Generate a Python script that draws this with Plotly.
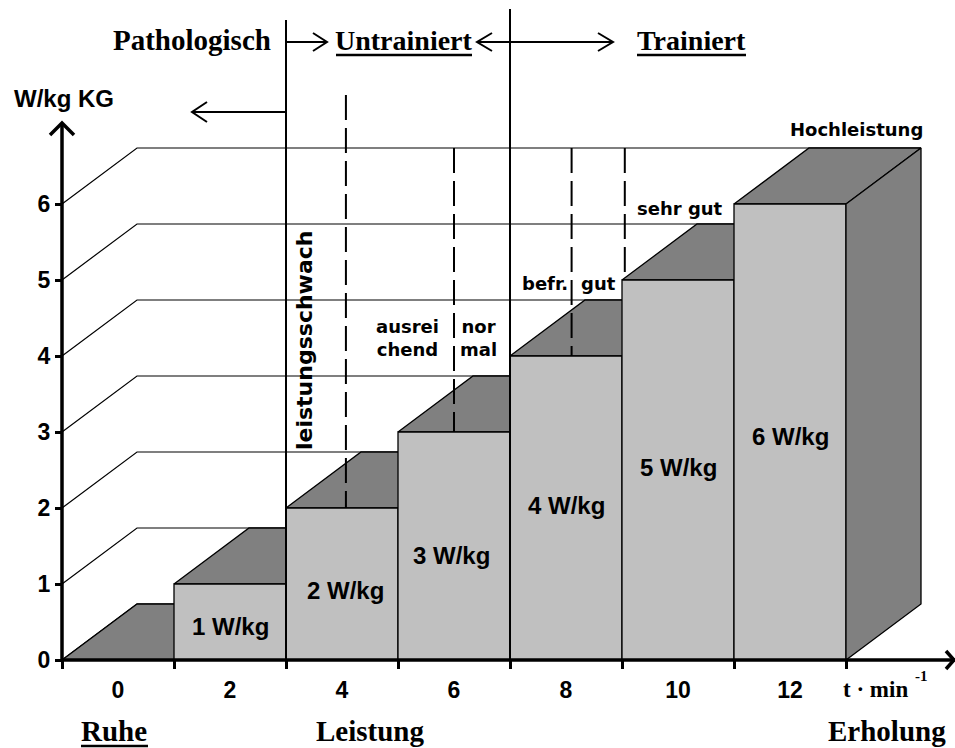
import plotly.graph_objects as go

# ---------------- data ----------------
minutes = [0, 2, 4, 6, 8, 10, 12]            # step centres (min)
watt_per_kg = [0, 1, 2, 3, 4, 5, 6]          # load of each step
bar_labels = ["", "1 W/kg", "2 W/kg", "3 W/kg", "4 W/kg", "5 W/kg", "6 W/kg"]
x_tick_labels = ["0", "2", "4", "6", "8", "10", "12"]
y_ticks = [0, 1, 2, 3, 4, 5, 6]
zone_bounds = [3, 7]                          # Pathologisch | Untrainiert | Trainiert
class_markers_x = [4.07, 6.0, 8.1, 9.05]      # dashed class boundaries (min)
class_markers_bottom = [2, 3, 4, 5]           # W/kg where each dashed line ends

# ---------------- geometry / style ----------------
W, H = 955, 748
X0PX, PXM = 118, 56      # pixel of minute 0, pixels per minute
Y0PX, PXV = 660, 76      # pixel of 0 W/kg, pixels per W/kg
DX, DY = 75 / PXM, 56 / PXV   # 3-D depth offset
HALF = 1.0
LIGHT, DARK = "#c0c0c0", "#808080"
SANS = "Liberation Sans"
SANS2 = "DejaVu Sans"
SERIF = "Liberation Serif"


def fx(px):
    return (px - X0PX) / PXM


def fy(py):
    return (Y0PX - py) / PXV


fig = go.Figure()


def poly(xs, ys, fill, lw=1.3):
    fig.add_trace(go.Scatter(x=xs + [xs[0]], y=ys + [ys[0]], mode="lines", fill="toself",
                             fillcolor=fill, line=dict(color="black", width=lw),
                             hoverinfo="skip", showlegend=False))


def line(xs, ys, lw=1.0, dash="solid"):
    fig.add_trace(go.Scatter(x=xs, y=ys, mode="lines", line=dict(color="black", width=lw, dash=dash),
                             hoverinfo="skip", showlegend=False))


x_left = minutes[0] - HALF
x_right = minutes[-1] + HALF
top = max(watt_per_kg)

# back-wall grid lines
for v in y_ticks:
    line([x_left, x_left + DX, x_right + DX], [v, v + DY, v + DY], lw=1.2)

# top faces
for m, v in zip(minutes, watt_per_kg):
    a, b = m - HALF, m + HALF
    poly([a, a + DX, b + DX, b], [v, v + DY, v + DY, v], DARK)

# front faces
for m, v in zip(minutes, watt_per_kg):
    if v > 0:
        a, b = m - HALF, m + HALF
        poly([a, a, b, b], [0, v, v, 0], LIGHT)

# side face of last step
poly([x_right, x_right + DX, x_right + DX, x_right], [0, DY, top + DY, top], DARK)

# zone boundaries (solid)
line([zone_bounds[0], zone_bounds[0]], [0, fy(20)], lw=2)
line([zone_bounds[1], zone_bounds[1]], [0, fy(9)], lw=2)

# class boundaries (dashed)
tops = [fy(95), top + DY, top + DY, top + DY]
for xm, yb, yt in zip(class_markers_x, class_markers_bottom, tops):
    line([xm, xm], [yt, yb], lw=2, dash="25px,8px")

# axes with arrows
line([x_left, x_left], [0, fy(124)], lw=3.5)
line([fx(50), x_left, fx(74)], [fy(135), fy(123), fy(135)], lw=3.5)
line([x_left, fx(955)], [0, 0], lw=3.5)
line([fx(946), fx(954), fx(946)], [fy(651), fy(660), fy(669)], lw=3.5)

# top arrows
ya = fy(42)
line([zone_bounds[0], fx(327)], [ya, ya], lw=2)
line([fx(313), fx(327), fx(313)], [fy(33), ya, fy(51)], lw=2)
line([fx(477), fx(613)], [ya, ya], lw=2)
line([fx(492), fx(477), fx(492)], [fy(33), ya, fy(51)], lw=2)
line([fx(598), fx(613), fx(598)], [fy(33), ya, fy(51)], lw=2)
yl = fy(112)
line([zone_bounds[0], fx(192)], [yl, yl], lw=2)
line([fx(207), fx(192), fx(207)], [fy(102), yl, fy(122)], lw=2)

# underlines
line([fx(336), fx(472)], [fy(55), fy(55)], lw=2.5)
line([fx(637), fx(746)], [fy(55), fy(55)], lw=2.5)
line([fx(81), fx(148)], [fy(746), fy(746)], lw=2.5)

annotations = []


def txt(text, px, py, family, size, angle=0, xanchor="center"):
    annotations.append(dict(text=text, x=fx(px), y=fy(py), xref="x", yref="y", showarrow=False,
                            xanchor=xanchor, yanchor="middle", textangle=angle,
                            font=dict(family=family, size=size, color="black", weight="bold")))


# bar labels
label_pos = [None, (230, 626), (345, 590), (451, 555), (566, 505), (678, 467), (790, 436)]
for lab, pos in zip(bar_labels, label_pos):
    if lab:
        txt(lab, pos[0], pos[1], SANS, 24)

txt("Pathologisch", 192, 40, SERIF, 29)
txt("Untrainiert", 404, 40, SERIF, 28)
txt("Trainiert", 691, 40, SERIF, 28)
txt("W/kg KG", 64, 98, SANS, 24)
txt("Hochleistung", 856, 129, SANS2, 18)
txt("sehr gut", 680, 208, SANS2, 18)
txt("befr.", 545, 283, SANS2, 18)
txt("gut", 598, 283, SANS2, 18)
txt("ausrei<br>chend", 407, 338, SANS2, 18)
txt("nor<br>mal", 478, 338, SANS2, 18)
txt("leistungsschwach", 304, 341, SANS2, 22, angle=-90)
txt("t · min", 875, 689, SERIF, 23)
txt("-1", 921, 676, SERIF, 15)
txt("Ruhe", 114, 731, SERIF, 29)
txt("Leistung", 370, 731, SERIF, 29)
txt("Erholung", 887, 731, SERIF, 29)

tickfont = dict(family=SANS, size=23, color="black", weight="bold")
fig.update_layout(
    width=W, height=H, margin=dict(l=0, r=0, t=0, b=0),
    paper_bgcolor="white", plot_bgcolor="white", showlegend=False, hovermode=False,
    annotations=annotations,
    xaxis=dict(range=[fx(0), fx(W)], domain=[0, 1], anchor="free", position=(H - Y0PX) / H,
               showline=False, showgrid=False, zeroline=False, fixedrange=True,
               tickmode="array", tickvals=minutes, ticktext=x_tick_labels, ticks="",
               ticklabelstandoff=14, tickfont=tickfont,
               minor=dict(tickmode="array", tickvals=[m - HALF for m in minutes] + [x_right],
                          ticks="outside", ticklen=8, tickwidth=3, tickcolor="black", showgrid=False)),
    yaxis=dict(range=[fy(H), fy(0)], domain=[0, 1], anchor="free", position=(X0PX - PXM) / W,
               showline=False, showgrid=False, zeroline=False, fixedrange=True,
               tickmode="array", tickvals=y_ticks, ticks="outside", ticklen=7, tickwidth=3,
               tickcolor="black", tickfont=tickfont),
)

fig.write_html("out.html", config={"displayModeBar": False},
               post_script="document.body.style.margin='0';document.body.style.overflow='hidden';")
